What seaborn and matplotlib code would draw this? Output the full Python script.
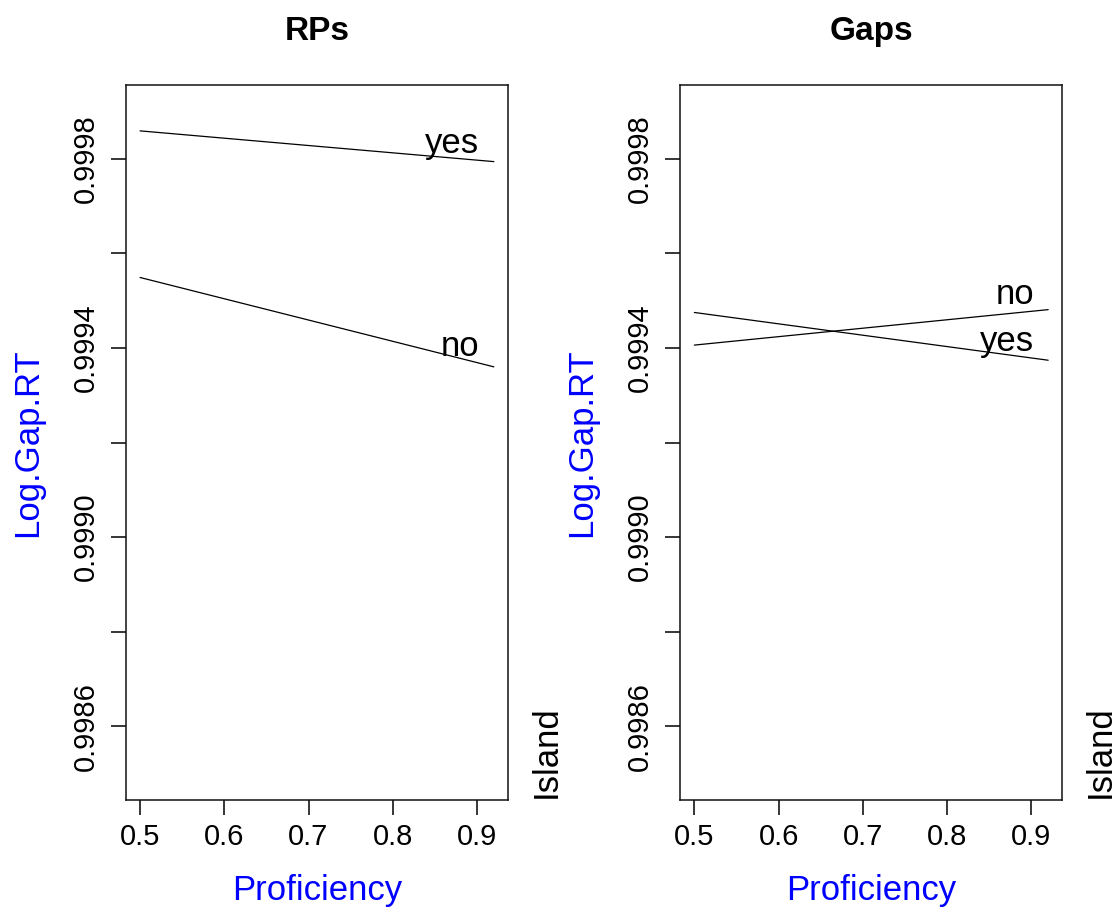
import numpy as np
import pandas as pd
import matplotlib
matplotlib.use("Agg")
import matplotlib.pyplot as plt
import seaborn as sns

# Fitted Log.Gap.RT by proficiency, split by island condition
proficiency = [0.5, 0.92]
rp_yes = [0.999859, 0.999794]
rp_no = [0.999549, 0.999360]
gap_yes = [0.999475, 0.999374]
gap_no = [0.999406, 0.999481]

panel_titles = ["RPs", "Gaps"]
island_levels = ["yes", "no"]
y_ticks = [0.9986, 0.9988, 0.9990, 0.9992, 0.9994, 0.9996, 0.9998]
y_tick_labels = ["0.9986", "", "0.9990", "", "0.9994", "", "0.9998"]
x_ticks = [0.5, 0.6, 0.7, 0.8, 0.9]
x_tick_labels = ["0.5", "0.6", "0.7", "0.8", "0.9"]

panels = {
    "RPs": {"yes": rp_yes, "no": rp_no},
    "Gaps": {"yes": gap_yes, "no": gap_no},
}

sns.set_style("ticks")
plt.rcParams["font.family"] = ["Liberation Sans", "DejaVu Sans"]
plt.rcParams["text.color"] = "black"
plt.rcParams["axes.labelcolor"] = "black"

fig = plt.figure(figsize=(11.16, 9.14), dpi=100)
ax_w, ax_h, ax_b = 0.3424, 0.7823, 0.1247
axes = [fig.add_axes([0.1128, ax_b, ax_w, ax_h]),
        fig.add_axes([0.6095, ax_b, ax_w, ax_h])]

blue = "#0000FF"
for ax, title in zip(axes, panel_titles):
    rows = []
    for lvl in island_levels:
        for x, y in zip(proficiency, panels[title][lvl]):
            rows.append({"Proficiency": x, "Log.Gap.RT": y, "Island": lvl})
    df = pd.DataFrame(rows)
    sns.lineplot(data=df, x="Proficiency", y="Log.Gap.RT", hue="Island",
                 hue_order=island_levels,
                 palette={"yes": "black", "no": "black"},
                 linewidth=0.9, legend=False, ax=ax)

    # level names written just above each line near its right end
    for lvl in island_levels:
        yv = np.interp(0.9, proficiency, panels[title][lvl])
        ax.annotate(lvl, xy=(0.903, yv), xytext=(0, 5),
                    textcoords="offset points", ha="right", va="baseline",
                    fontsize=25, color="black")

    ax.set_xlim(0.4832, 0.9368)
    ax.set_ylim(0.998444, 0.999956)
    ax.set_xticks(x_ticks)
    ax.set_xticklabels(x_tick_labels)
    ax.set_yticks(y_ticks)
    ax.set_yticklabels(y_tick_labels, rotation=90, va="center")
    ax.tick_params(axis="both", labelsize=21, length=10.5, width=1.1,
                   color="black", labelcolor="black", direction="out")
    ax.tick_params(axis="x", pad=6)
    ax.tick_params(axis="y", pad=8.5)
    for sp in ax.spines.values():
        sp.set_visible(True)
        sp.set_linewidth(1.1)
        sp.set_color("#111111")

    ax.set_xlabel("Proficiency", fontsize=25, color=blue)
    ax.set_ylabel("Log.Gap.RT", fontsize=25, color=blue)
    ax.xaxis.set_label_coords(0.5, -0.104)
    ax.yaxis.set_label_coords(-0.214, 0.5)

    ax.set_title(title, fontsize=24, fontweight="bold", color="black",
                 y=1.063, pad=0)

    ax.text(1.0994, 0.003, "Island", transform=ax.transAxes, rotation=90,
            ha="center", va="bottom", fontsize=25, color="black",
            clip_on=False)

fig.savefig("out.png", dpi=100, facecolor="white")
